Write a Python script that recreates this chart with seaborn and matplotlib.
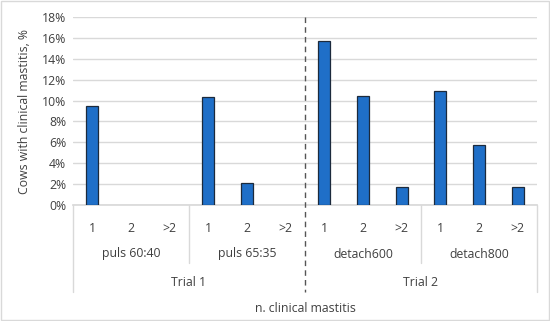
import numpy as np
import pandas as pd
import seaborn as sns
import matplotlib.pyplot as plt
from matplotlib.ticker import PercentFormatter

# data
trials = ['Trial 1', 'Trial 2']
groups = ['puls 60:40', 'puls 65:35', 'detach600', 'detach800']
levels = ['1', '2', '>2']
values = [9.5, 0, 0,
          10.35, 2.1, 0,
          15.7, 10.45, 1.75,
          10.95, 5.7, 1.75]

df = pd.DataFrame({
    'slot': [str(i) for i in range(len(values))],
    'level': levels * len(groups),
    'value': values,
})
# zero bars are not drawn in the original
df['shown'] = df['value'].replace(0, np.nan)

sns.set_theme(style='white')
plt.rcParams['font.family'] = ['Open Sans', 'DejaVu Sans']
fs = 8.8
tc = '#404040'

fig = plt.figure(figsize=(5.5, 3.21), dpi=100)
ax = fig.add_axes([73 / 550, 1 - 205 / 321, 464 / 550, 188 / 321])

sns.barplot(data=df, x='slot', y='shown', color='#1f6fc8', width=0.31,
            edgecolor='#1c2a3c', linewidth=0.9, saturation=1, ax=ax, zorder=3)

ax.set_ylim(0, 18)
ax.set_yticks(range(0, 19, 2))
ax.yaxis.set_major_formatter(PercentFormatter(decimals=0))
ax.grid(axis='y', color='#d9d9d9', linewidth=1, zorder=0)
ax.set_xlim(-0.5, len(values) - 0.5)
ax.set_xticks(range(len(values)))
ax.set_xticklabels(df['level'])
ax.tick_params(axis='both', length=0, labelsize=fs, colors=tc)
ax.tick_params(axis='x', pad=12)
ax.tick_params(axis='y', pad=5)
for s in ['top', 'right', 'left']:
    ax.spines[s].set_visible(False)
ax.spines['bottom'].set_color('#d9d9d9')

ax.set_ylabel('Cows with clinical mastitis, %', fontsize=fs, color=tc, labelpad=8)
ax.set_xlabel('')

# category axis boxes drawn in pixel positions along the data x scale
trans = ax.get_xaxis_transform()
px = lambda y: (205 - y) / 188  # figure pixel row -> axes fraction
for i, g in enumerate(groups):
    ax.text(i * 3 + 1, px(254), g, transform=trans, ha='center', va='center',
            fontsize=fs, color=tc)
for i, t in enumerate(trials):
    ax.text(i * 6 + 2.5, px(283), t, transform=trans, ha='center', va='center',
            fontsize=fs, color=tc)
for xb in [2.5, 8.5]:
    ax.plot([xb, xb], [0, px(263)], transform=trans, color='#d9d9d9', lw=1, clip_on=False)
for xb in [-0.5, 11.5]:
    ax.plot([xb, xb], [0, px(292)], transform=trans, color='#d9d9d9', lw=1, clip_on=False)
ax.plot([5.5, 5.5], [1, px(292)], transform=trans, color='#555555', lw=1,
        ls=(0, (4, 3)), clip_on=False, zorder=5)

fig.text(305 / 550, 1 - 308 / 321, 'n. clinical mastitis', ha='center', va='center',
         fontsize=fs, color=tc)

# outer frame
fig.patches.append(plt.Rectangle((0.002, 0.003), 0.996, 0.994, transform=fig.transFigure,
                                 fill=False, edgecolor='#d9d9d9', lw=1))

fig.savefig('out.png', dpi=100)
